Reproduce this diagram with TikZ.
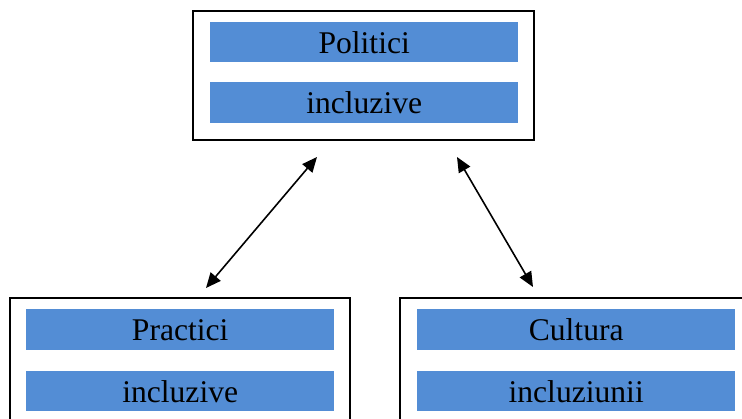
\documentclass[tikz,border=0pt]{standalone}
\usepackage{fontspec}
\setmainfont{Liberation Serif}
\usetikzlibrary{arrows.meta}
\definecolor{barblue}{RGB}{83,141,213}
\begin{document}
\begin{tikzpicture}[x=1pt,y=-1pt,
  outerbox/.style={draw=black, line width=2pt, fill=white},
  bar/.style={fill=barblue, draw=none, inner sep=0pt, anchor=north west,
    font=\fontsize{31.6}{36}\selectfont, text=black},
  link/.style={line width=1.6pt, {Triangle[length=15pt,width=13pt]}-{Triangle[length=15pt,width=13pt]}}]
\useasboundingbox (0,0) rectangle (742,419);
\clip (0,0) rectangle (742,419);
% outer boxes
\draw[outerbox] (193,11) rectangle (534,140);
\node[inner sep=0pt] (top) at (363.5,75.5) {};
\draw[outerbox] (10,298) rectangle (350,440);
\node[inner sep=0pt] (left) at (180,369) {};
\draw[outerbox] (400,298) rectangle (760,440);
\node[inner sep=0pt] (right) at (580,369) {};
% bars
\node[bar, minimum width=308pt, minimum height=40pt] (t1) at (210,22) {Politici};
\node[bar, minimum width=308pt, minimum height=41pt] (t2) at (210,82) {incluzive};
\node[bar, minimum width=308pt, minimum height=41pt] (l1) at (26,309) {Practici};
\node[bar, minimum width=308pt, minimum height=40pt] (l2) at (26,371) {incluzive};
\node[bar, minimum width=318pt, minimum height=41pt] (r1) at (417,309) {Cultura};
\node[bar, minimum width=318pt, minimum height=40pt] (r2) at (417,371) {incluziunii};
% connector ends
\coordinate (a1) at (317,157);
\coordinate (a2) at (206,288);
\coordinate (b1) at (457,157);
\coordinate (b2) at (533,287);
\draw[link] (a1) -- (a2);
\draw[link] (b1) -- (b2);
\end{tikzpicture}
\end{document}
